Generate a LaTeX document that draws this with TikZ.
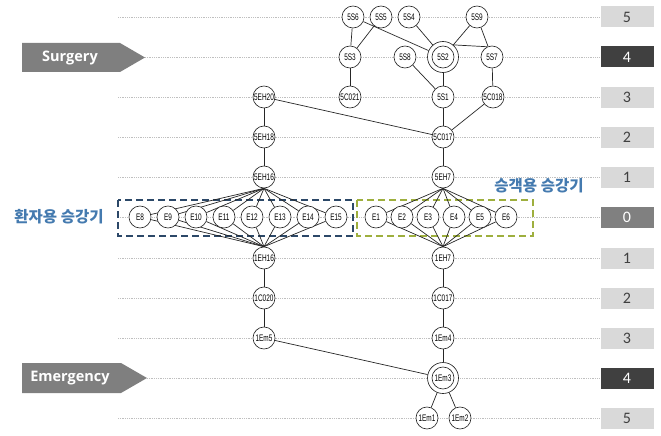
\documentclass[tikz,border=0pt]{standalone}
\usepackage{fontspec}
\setmainfont{Open Sans}
\newfontfamily\nodefont[FakeStretch=0.68]{Liberation Sans}
\newfontfamily\krfont{Noto Sans CJK KR}
\newfontfamily\lvlfont{Carlito}
\definecolor{krblue}{RGB}{68,122,175}
\definecolor{boxblue}{RGB}{44,72,104}
\definecolor{boxgreen}{RGB}{158,175,62}
\definecolor{arrowgray}{RGB}{127,127,127}
\definecolor{lvllightc}{RGB}{217,217,217}
\definecolor{lvldarkc}{RGB}{64,64,64}
\definecolor{lvlmidc}{RGB}{128,128,128}
\pgfdeclarelayer{back}
\pgfdeclarelayer{mid}
\pgfsetlayers{back,mid,main}
\begin{document}
\begin{tikzpicture}[x=1pt,y=-1pt,
  nfont/.style={font=\nodefont\fontsize{9.5}{9.5}\selectfont},
  st/.style={circle, draw=black!85, line width=0.65pt, fill=white, minimum size=22pt, inner sep=0pt, nfont},
  dst/.style={st, minimum size=31pt},
  edge/.style={draw=black!85, line width=0.7pt},
  lvl/.style={minimum width=53pt, minimum height=21pt, inner sep=0pt, font=\lvlfont\fontsize{16}{16}\selectfont},
  lvllight/.style={lvl, fill=lvllightc, text=black!75},
  lvldark/.style={lvl, fill=lvldarkc, text=white},
  lvlmid/.style={lvl, fill=lvlmidc, text=white},
  rowline/.style={draw=gray!50, line width=0.8pt, densely dotted},
  krlabel/.style={font=\krfont\bfseries\fontsize{15.5}{16}\selectfont, text=krblue, inner sep=0pt},
  arrowtext/.style={font=\bfseries\fontsize{14.5}{15}\selectfont, text=white, inner sep=0pt},
  dbox/.style={dash pattern=on 7pt off 4pt, line width=2.4pt}
]
\useasboundingbox (0,0) rectangle (661,436);

% level boxes
\foreach \n/\y/\t/\s in {lA/17/5/lvllight, lB/57/4/lvldark, lC/97/3/lvllight, lD/137/2/lvllight, lE/177/1/lvllight, lF/217/0/lvlmid, lG/258/1/lvllight, lH/298/2/lvllight, lI/338/3/lvllight, lJ/378/4/lvldark, lK/418/5/lvllight}
  \node[\s] (\n) at (627,\y) {\t};

% entry arrows
\fill[arrowgray] (22,43) -- (120,43) -- (145,57.5) -- (120,72) -- (22,72) -- cycle;
\node[arrowtext] (surg) at (70,57.5) {Surgery};
\coordinate (stip) at (145,57);
\fill[arrowgray] (22,363) -- (121,363) -- (147,378) -- (121,393) -- (22,393) -- cycle;
\node[arrowtext] (emer) at (70,378) {Emergency};
\coordinate (etip) at (147,378);

% labels
\node[krlabel] (krL) at (59,217) {환자용 승강기};
\node[krlabel] (krR) at (539,186) {승객용 승강기};

% nodes - surgery floor
\node[st] (n5S6) at (353,17) {5S6};
\node[st] (n5S5) at (381,17) {5S5};
\node[st] (n5S4) at (409,17) {5S4};
\node[st] (n5S9) at (477,17) {5S9};
\node[st] (n5S3) at (350,57) {5S3};
\node[st] (n5S8) at (405,57) {5S8};
\node[dst] (n5S2) at (443,57) {};
\node[st] (n5S7) at (492,57) {5S7};
\node[st] (n5EH20) at (264,97) {5EH20};
\node[st] (n5C021) at (350,97) {5C021};
\node[st] (n5S1) at (443,97) {5S1};
\node[st] (n5C018) at (493,97) {5C018};
\node[st] (n5EH18) at (264,137) {5EH18};
\node[st] (n5C017) at (443,137) {5C017};
\node[st] (n5EH16) at (264,177) {5EH16};
\node[st] (n5EH7) at (443,177) {5EH7};
% elevators
\foreach \i [count=\k from 0] in {8,...,15}
  \node[st] (E\i) at ({140+28*\k},217) {E\i};
\foreach \i [count=\k from 0] in {1,...,6}
  \node[st] (E\i) at ({376+26*\k},217) {E\i};
% emergency floor
\node[st] (n1EH16) at (264,258) {1EH16};
\node[st] (n1EH7) at (443,258) {1EH7};
\node[st] (n1C020) at (264,298) {1C020};
\node[st] (n1C017) at (443,298) {1C017};
\node[st] (n1Em5) at (264,338) {1Em5};
\node[st] (n1Em4) at (443,338) {1Em4};
\node[dst] (n1Em3) at (443,378) {};
\node[st] (n1Em1) at (427,418) {1Em1};
\node[st] (n1Em2) at (460,418) {1Em2};

% inner circles of double nodes
\draw[draw=black!85, line width=0.65pt] (n5S2.center) circle[radius=11pt];
\node[nfont, inner sep=0pt] (t5S2) at (n5S2.center) {5S2};
\draw[draw=black!85, line width=0.65pt] (n1Em3.center) circle[radius=11pt];
\node[nfont, inner sep=0pt] (t1Em3) at (n1Em3.center) {1Em3};

\begin{pgfonlayer}{back}
  \foreach \n/\y in {lA/17, lC/97, lD/137, lE/177, lF/217, lG/258, lH/298, lI/338, lK/418}
    \draw[rowline] (118,\y) -- (\n.west);
  \draw[rowline] (stip) -- (lB.west);
  \draw[rowline] (etip) -- (lJ.west);
\end{pgfonlayer}

\begin{pgfonlayer}{mid}
  \draw[dbox, draw=boxblue] (118,200) rectangle (353,236);
  \draw[dbox, draw=boxgreen] (357,200) rectangle (533,236);
  % top floor edges
  \draw[edge] (n5S6) -- (n5S3);
  \draw[edge] (n5S5) -- (n5S3);
  \draw[edge] (n5S6) -- (n5S2);
  \draw[edge] (n5S4) -- (n5S2);
  \draw[edge] (n5S9) -- (n5S2);
  \draw[edge] (n5S9) -- (n5S7);
  \draw[edge] (n5S2.50) -- (n5S7.115);
  \draw[edge] (n5S3) -- (n5C021);
  \draw[edge] (n5S8) -- (n5S1);
  \draw[edge] (n5S2) -- (n5S1);
  \draw[edge] (n5S7) -- (n5C018);
  \draw[edge] (n5C018) -- (n5C017);
  \draw[edge] (n5S1) -- (n5C017);
  \draw[edge] (n5EH20) -- (n5C017);
  \draw[edge] (n5EH20) -- (n5EH18) -- (n5EH16);
  \draw[edge] (n5C017) -- (n5EH7);
  % fans
  \foreach \i in {8,...,15} {
    \draw[edge] (n5EH16.south) -- (E\i);
    \draw[edge] (n1EH16.north) -- (E\i);
  }
  \foreach \i in {1,...,6} {
    \draw[edge] (n5EH7.south) -- (E\i);
    \draw[edge] (n1EH7.north) -- (E\i);
  }
  % emergency floor edges
  \draw[edge] (n1EH16) -- (n1C020) -- (n1Em5);
  \draw[edge] (n1EH7) -- (n1C017) -- (n1Em4) -- (n1Em3);
  \draw[edge] (n1Em5) -- (n1Em3);
  \draw[edge] (n1Em3) -- (n1Em1);
  \draw[edge] (n1Em3) -- (n1Em2);
\end{pgfonlayer}
\end{tikzpicture}
\end{document}
